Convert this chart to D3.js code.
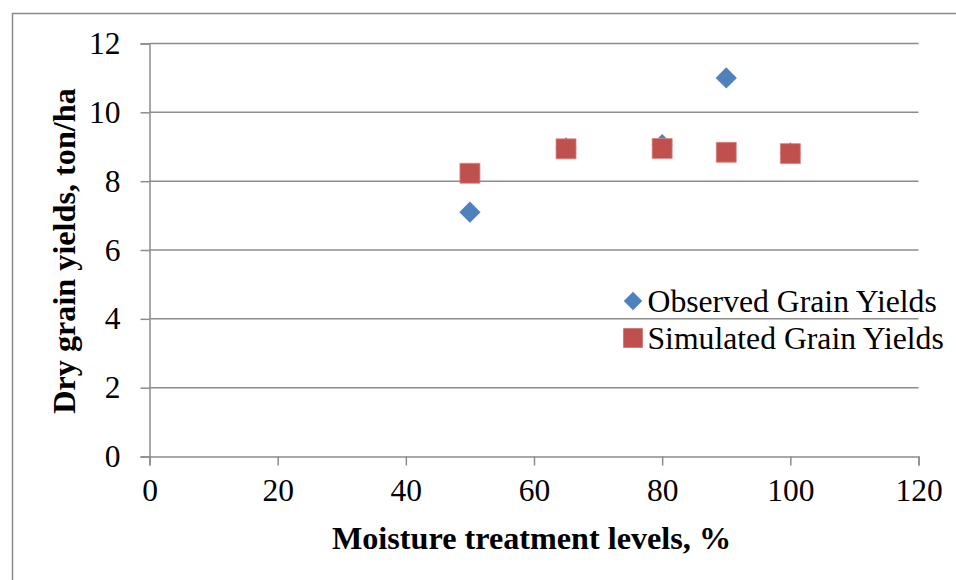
<!DOCTYPE html>
<html>
<head>
<meta charset="utf-8">
<script src="https://cdn.jsdelivr.net/npm/d3@7"></script>
<style>
  html, body { margin: 0; padding: 0; background: #fff; }
  svg { display: block; }
  text { font-family: "Liberation Serif", "Times New Roman", serif; fill: #000; }
</style>
</head>
<body>
<svg id="chart" width="956" height="580"></svg>
<script>
// Moisture treatment levels (%) and dry grain yields (ton/ha)
const observedX = [50, 65, 80, 90, 100];
const observedY = [7.1, 8.97, 9.06, 11.0, 8.82];
const simulatedX = [50, 65, 80, 90, 100];
const simulatedY = [8.23, 8.94, 8.95, 8.84, 8.80];
const xTicks = [0, 20, 40, 60, 80, 100, 120];
const yTicks = [0, 2, 4, 6, 8, 10, 12];
const seriesNames = ["Observed Grain Yields", "Simulated Grain Yields"];

const blue = "#4F81BD", red = "#C0504D", grid = "#8c8c8c";
const svg = d3.select("#chart");

// outer chart frame (only top and left edges fall inside the view)
svg.append("rect")
  .attr("x", 12.5).attr("y", 13.5)
  .attr("width", 1200).attr("height", 1200)
  .attr("fill", "none").attr("stroke", "#8a8a8a").attr("stroke-width", 1.5);

const x = d3.scaleLinear().domain([0, 120]).range([149.5, 918.5]);
const y = d3.scaleLinear().domain([0, 12]).range([456.5, 43.5]);

// horizontal gridlines
svg.append("g").selectAll("line").data(yTicks.filter(d => d > 0)).join("line")
  .attr("x1", x(0)).attr("x2", x(120))
  .attr("y1", d => y(d)).attr("y2", d => y(d))
  .attr("stroke", grid).attr("stroke-width", 1.5);

// y axis
const yAxis = svg.append("g").attr("transform", `translate(${x(0)},0)`)
  .call(d3.axisLeft(y).tickValues(yTicks).tickSize(9).tickPadding(20).tickFormat(d3.format("d")));
yAxis.select(".domain").attr("stroke", grid).attr("stroke-width", 1.5);
yAxis.selectAll(".tick line").attr("stroke", grid).attr("stroke-width", 1.5);
yAxis.selectAll(".tick text").attr("font-size", 31.5).attr("font-family", "Liberation Serif").attr("fill", "#000");

// x axis
const xAxis = svg.append("g").attr("transform", `translate(0,${y(0)})`)
  .call(d3.axisBottom(x).tickValues(xTicks).tickSize(9).tickPadding(13).tickFormat(d3.format("d")));
xAxis.select(".domain").attr("stroke", grid).attr("stroke-width", 1.5);
xAxis.selectAll(".tick line").attr("stroke", grid).attr("stroke-width", 1.5);
xAxis.selectAll(".tick text").attr("font-size", 31.5).attr("font-family", "Liberation Serif").attr("fill", "#000");

// axis titles
svg.append("text")
  .attr("x", 531.5).attr("y", 549)
  .attr("text-anchor", "middle").attr("font-size", 32.2).attr("font-weight", "bold")
  .text("Moisture treatment levels, %");
svg.append("text")
  .attr("transform", `translate(75,251) rotate(-90)`)
  .attr("text-anchor", "middle").attr("font-size", 32.2).attr("font-weight", "bold")
  .text("Dry grain yields, ton/ha");

const diamond = d3.symbol(d3.symbolSquare, 225)();
const square = d3.symbol(d3.symbolSquare, 400)();

const observed = observedX.map((v, i) => ({ x: v, y: observedY[i] }));
const simulated = simulatedX.map((v, i) => ({ x: v, y: simulatedY[i] }));

svg.append("g").selectAll("path").data(observed).join("path")
  .attr("d", diamond)
  .attr("transform", d => `translate(${x(d.x)},${y(d.y)}) rotate(45)`)
  .attr("fill", blue);

svg.append("g").selectAll("path").data(simulated).join("path")
  .attr("d", square)
  .attr("transform", d => `translate(${x(d.x)},${y(d.y)})`)
  .attr("fill", red).attr("stroke", "#d98884").attr("stroke-width", 0.8);

// legend
const legend = svg.append("g");
const legendRows = [
  { name: seriesNames[0], color: blue, rot: 45, area: 170, cy: 301 },
  { name: seriesNames[1], color: red, rot: 0, area: 380, cy: 338 }
];
legendRows.forEach(r => {
  legend.append("path")
    .attr("d", d3.symbol(d3.symbolSquare, r.area)())
    .attr("transform", `translate(633,${r.cy}) rotate(${r.rot})`)
    .attr("fill", r.color);
  legend.append("text")
    .attr("x", 647.5).attr("y", r.cy + 10.5)
    .attr("font-size", 31.7).text(r.name);
});
</script>
</body>
</html>
